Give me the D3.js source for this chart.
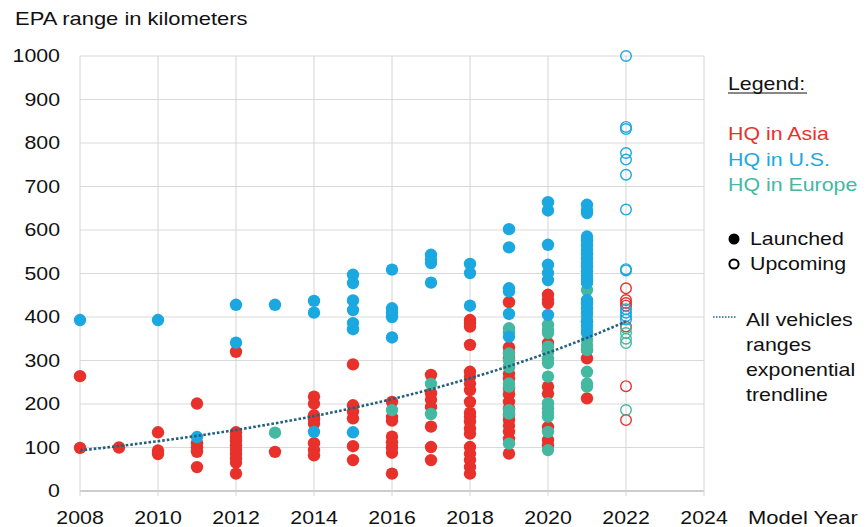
<!DOCTYPE html>
<html>
<head>
<meta charset="utf-8">
<script src="https://cdn.jsdelivr.net/npm/d3@7"></script>
<style>
  body { margin: 0; background: #fff; }
  text { font-family: "Liberation Sans", Arial, sans-serif; }
</style>
</head>
<body>
<div id="chart"></div>
<script>
// Model year columns and ranges (km)
const asiaLaunched = [
    [2008, 264], [2008, 99],
    [2009, 100],
    [2010, 135], [2010, 93], [2010, 85],
    [2011, 201], [2011, 110], [2011, 100], [2011, 90], [2011, 55],
    [2012, 320], [2012, 135], [2012, 125], [2012, 115], [2012, 105], [2012, 95], [2012, 85], [2012, 75], [2012, 65], [2012, 40],
    [2013, 90],
    [2014, 217], [2014, 201], [2014, 174], [2014, 165], [2014, 155], [2014, 110], [2014, 94], [2014, 82],
    [2015, 291], [2015, 197], [2015, 182], [2015, 167], [2015, 103], [2015, 71],
    [2016, 205], [2016, 170], [2016, 162], [2016, 125], [2016, 112], [2016, 100], [2016, 88], [2016, 40],
    [2017, 267], [2017, 225], [2017, 210], [2017, 193], [2017, 148], [2017, 101], [2017, 71],
    [2018, 393], [2018, 386], [2018, 378], [2018, 336], [2018, 274], [2018, 263], [2018, 247], [2018, 232], [2018, 205],
    [2018, 180], [2018, 171], [2018, 159], [2018, 144], [2018, 132], [2018, 101], [2018, 86], [2018, 71], [2018, 55], [2018, 40],
    [2019, 434], [2019, 330], [2019, 318], [2019, 305], [2019, 285], [2019, 270], [2019, 258], [2019, 235], [2019, 222],
    [2019, 205], [2019, 190], [2019, 175], [2019, 163], [2019, 150], [2019, 136], [2019, 120], [2019, 86],
    [2020, 451], [2020, 440], [2020, 432], [2020, 340], [2020, 320], [2020, 240], [2020, 224], [2020, 147], [2020, 117], [2020, 105],
    [2021, 324], [2021, 305], [2021, 213]
];

const usLaunched = [
    [2008, 393],
    [2010, 393],
    [2011, 124],
    [2012, 428], [2012, 341],
    [2013, 428],
    [2014, 437], [2014, 410], [2014, 136],
    [2015, 497], [2015, 478], [2015, 438], [2015, 416], [2015, 386], [2015, 372], [2015, 135],
    [2016, 509], [2016, 420], [2016, 410], [2016, 400], [2016, 353],
    [2017, 543], [2017, 532], [2017, 524], [2017, 479],
    [2018, 522], [2018, 501], [2018, 426],
    [2019, 602], [2019, 560], [2019, 466], [2019, 459], [2019, 407], [2019, 355],
    [2020, 664], [2020, 645], [2020, 566], [2020, 520], [2020, 501], [2020, 485], [2020, 405],
    [2021, 658], [2021, 645], [2021, 639], [2021, 585], [2021, 575], [2021, 565], [2021, 555], [2021, 545], [2021, 535],
    [2021, 525], [2021, 515], [2021, 505], [2021, 495], [2021, 485], [2021, 478], [2021, 439], [2021, 430], [2021, 420],
    [2021, 409], [2021, 390], [2021, 380], [2021, 363]
];

const europeLaunched = [
    [2013, 134],
    [2016, 186],
    [2017, 246], [2017, 177],
    [2019, 374], [2019, 365], [2019, 316], [2019, 300], [2019, 285], [2019, 247], [2019, 240], [2019, 186], [2019, 178], [2019, 109],
    [2020, 382], [2020, 370], [2020, 363], [2020, 332], [2020, 320], [2020, 305], [2020, 294], [2020, 263], [2020, 202],
    [2020, 190], [2020, 180], [2020, 171], [2020, 136], [2020, 94],
    [2021, 462], [2021, 401], [2021, 390], [2021, 370], [2021, 347], [2021, 335], [2021, 324], [2021, 274], [2021, 247], [2021, 240]
];

const asiaUpcoming = [[2022, 466], [2022, 439], [2022, 432], [2022, 426], [2022, 378], [2022, 241], [2022, 163]];
const usUpcoming = [[2022, 1000], [2022, 837], [2022, 832], [2022, 777], [2022, 762], [2022, 727], [2022, 647],
    [2022, 510], [2022, 507], [2022, 418], [2022, 410], [2022, 402], [2022, 394]];
const europeUpcoming = [[2022, 374], [2022, 363], [2022, 350], [2022, 340], [2022, 186]];

const xTicks = [2008, 2010, 2012, 2014, 2016, 2018, 2020, 2022, 2024];
const yTicks = [0, 100, 200, 300, 400, 500, 600, 700, 800, 900, 1000];

const colors = { asia: '#e8312b', us: '#1ba8e0', europe: '#45b8a2' };

const width = 866, height = 527;
const textStretch = 1.22;   // the source picture is stretched sideways

const svg = d3.select('#chart').append('svg')
    .attr('width', width)
    .attr('height', height);

const x = d3.scaleLinear().domain([2008, 2024]).range([80, 704]);
const y = d3.scaleLinear().domain([0, 1000]).range([491, 56]);

// stretched text helper
function label(sel, px, py, str, size, color, anchor) {
    return sel.append('text')
        .attr('transform', `translate(${px},${py}) scale(${textStretch},1)`)
        .attr('font-size', size)
        .attr('fill', color || '#111')
        .attr('text-anchor', anchor || 'start')
        .text(str);
}

// Gridlines
svg.append('g').selectAll('line.h')
    .data(yTicks)
    .enter().append('line')
        .attr('x1', x(2008)).attr('x2', x(2024))
        .attr('y1', d => y(d)).attr('y2', d => y(d))
        .attr('stroke', d => d === 0 ? '#bdbdbd' : '#d9d9d9')
        .attr('stroke-width', d => d === 0 ? 1.5 : 1);

svg.append('g').selectAll('line.v')
    .data(xTicks)
    .enter().append('line')
        .attr('x1', d => x(d)).attr('x2', d => x(d))
        .attr('y1', y(1000)).attr('y2', y(0) + 5)
        .attr('stroke', '#d4d4d4')
        .attr('stroke-width', 1);

// Tick labels
yTicks.forEach(t => label(svg, 60, y(t) + 6, t, '17.5px', '#111', 'end'));
xTicks.forEach(t => label(svg, x(t), 524, t, '17.5px', '#111', 'middle'));

label(svg, 15, 25, 'EPA range in kilometers', '18px');
label(svg, 748, 524, 'Model Year', '18px');

// Launched (filled) and upcoming (open) dots
const series = [
    { data: asiaLaunched, color: colors.asia, open: false },
    { data: europeLaunched, color: colors.europe, open: false },
    { data: usLaunched, color: colors.us, open: false },
    { data: asiaUpcoming, color: colors.asia, open: true },
    { data: europeUpcoming, color: colors.europe, open: true },
    { data: usUpcoming, color: colors.us, open: true }
];

series.forEach(s => {
    svg.append('g').selectAll('circle')
        .data(s.data)
        .enter().append('circle')
            .attr('cx', d => x(d[0]))
            .attr('cy', d => y(d[1]))
            .attr('r', s.open ? 5.3 : 6.2)
            .attr('fill', s.open ? 'none' : s.color)
            .attr('stroke', s.color)
            .attr('stroke-width', s.open ? 1.4 : 0);
});

// Exponential trendline fitted over all vehicles (least squares on ln(range))
const allPoints = series.flatMap(s => s.data);
const n = allPoints.length;
const mx = d3.mean(allPoints, d => d[0] - 2008);
const my = d3.mean(allPoints, d => Math.log(d[1]));
const b = d3.sum(allPoints, d => (d[0] - 2008 - mx) * (Math.log(d[1]) - my)) /
          d3.sum(allPoints, d => (d[0] - 2008 - mx) ** 2);
const a = Math.exp(my - b * mx);
const trendYears = d3.range(2008, 2022.01, 0.25);

svg.append('path')
    .datum(trendYears)
    .attr('fill', 'none')
    .attr('stroke', '#23607e')
    .attr('stroke-width', 2.6)
    .attr('stroke-dasharray', '2.6,2')
    .attr('d', d3.line().x(d => x(d)).y(d => y(a * Math.exp(b * (d - 2008)))));

// Legend
const lg = svg.append('g');
label(lg, 728, 90, 'Legend:', '17.5px');
lg.append('line')
    .attr('x1', 728).attr('x2', 807)
    .attr('y1', 93).attr('y2', 93)
    .attr('stroke', '#111').attr('stroke-width', 1);

label(lg, 728, 140, 'HQ in Asia', '17.5px', colors.asia);
label(lg, 728, 166, 'HQ in U.S.', '17.5px', colors.us);
label(lg, 728, 191, 'HQ in Europe', '17.5px', colors.europe);

lg.append('circle').attr('cx', 734).attr('cy', 239).attr('r', 5.5).attr('fill', '#000');
label(lg, 750, 245, 'Launched', '17.5px');
lg.append('circle').attr('cx', 734).attr('cy', 264).attr('r', 4.6)
    .attr('fill', 'none').attr('stroke', '#000').attr('stroke-width', 2);
label(lg, 750, 270, 'Upcoming', '17.5px');

lg.append('line')
    .attr('x1', 713).attr('x2', 737)
    .attr('y1', 317).attr('y2', 317)
    .attr('stroke', '#23607e').attr('stroke-width', 1.6)
    .attr('stroke-dasharray', '1.5,1.5');
['All vehicles', 'ranges', 'exponential', 'trendline'].forEach((t, i) =>
    label(lg, 746, 326 + i * 25, t, '17.5px'));
</script>
</body>
</html>
